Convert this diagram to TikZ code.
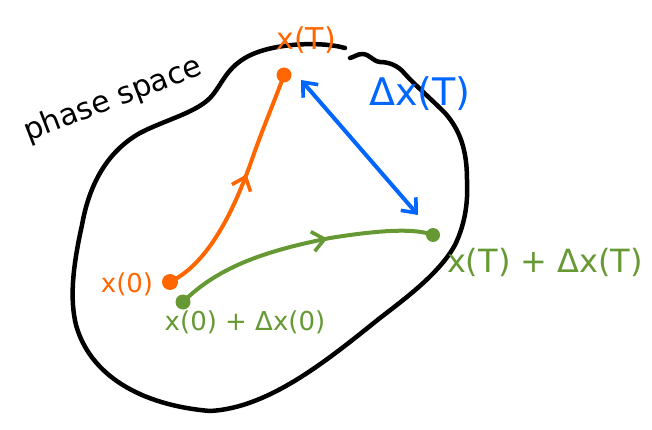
\documentclass[tikz,border=0pt]{standalone}
\usepackage{fontspec}
\setmainfont{DejaVu Sans}
\usetikzlibrary{arrows.meta,decorations.markings}
\definecolor{myorange}{RGB}{255,102,0}
\definecolor{mygreen}{RGB}{102,153,51}
\definecolor{myblue}{RGB}{0,102,255}
\tikzset{
  blob/.style={line width=4.5pt,line cap=round,line join=round,black},
  traj/.style={line width=4pt,line cap=round},
  barb/.tip={Straight Barb[length=12pt,width=20pt,line width=3.6pt]},
  midarrow/.style={postaction={decorate},decoration={markings,mark=at position #1 with {\arrow{barb}}}},
  dotnode/.style={circle,fill,inner sep=0pt,minimum size=16pt},
  lbl/.style={font=\fontsize{26}{30}\selectfont},
}
\begin{document}
\begin{tikzpicture}[x=1pt,y=-1pt]
\useasboundingbox (0,0) rectangle (652,430);
% phase space outline
\draw[blob] (345,48) .. controls (320,41) and (270,43) .. (245,58)
  .. controls (225,70) and (222,85) .. (210,98)
  .. controls (195,113) and (165,120) .. (140,133)
  .. controls (110,150) and (90,180) .. (82,225)
  .. controls (72,270) and (70,300) .. (76,325)
  .. controls (90,375) and (140,405) .. (210,411)
  .. controls (270,408) and (330,358) .. (380,318)
  .. controls (410,295) and (440,272) .. (455,245)
  .. controls (466,222) and (468,200) .. (467,180)
  .. controls (467,150) and (460,130) .. (445,113)
  .. controls (430,98) and (415,85) .. (405,74)
  .. controls (398,65) and (388,62) .. (380,62)
  .. controls (372,61) and (370,54) .. (362,54)
  .. controls (358,54) and (354,57) .. (350,58);
\node[font=\fontsize{30}{34}\selectfont,rotate=21] (ps) at (113,100) {phase space};
% orange trajectory
\node[dotnode,myorange] (x0) at (170,282) {};
\node[dotnode,myorange,minimum size=15pt] (xT) at (284,75) {};
\draw[traj,myorange,midarrow=0.56] (x0.center) .. controls (205,265) and (230,220) .. (250,165) .. controls (262,130) and (275,100) .. (xT.center);
\node[lbl,myorange] (lx0) at (127,284) {x(0)};
\node[lbl,myorange,font=\fontsize{30}{34}\selectfont] (lxT) at (306,40) {x(T)};
% green trajectory
\node[dotnode,mygreen,minimum size=15pt] (y0) at (183,302) {};
\node[dotnode,mygreen,minimum size=14pt] (yT) at (433,235) {};
\draw[traj,mygreen,midarrow=0.6] (y0.center) .. controls (220,265) and (270,250) .. (330,238) .. controls (380,230) and (415,228) .. (yT.center);
\node[lbl,mygreen] (ly0) at (245,322) {x(0) + Δx(0)};
\node[lbl,mygreen,font=\fontsize{32}{36}\selectfont] (lyT) at (545,262) {x(T) + Δx(T)};
% blue separation
\coordinate (b1) at (301,80);
\coordinate (b2) at (418,215);
\draw[traj,myblue,barb-barb] (b1) -- (b2);
\node[lbl,myblue,font=\fontsize{38}{42}\selectfont] (ldx) at (420,94) {Δx(T)};
\end{tikzpicture}
\end{document}
